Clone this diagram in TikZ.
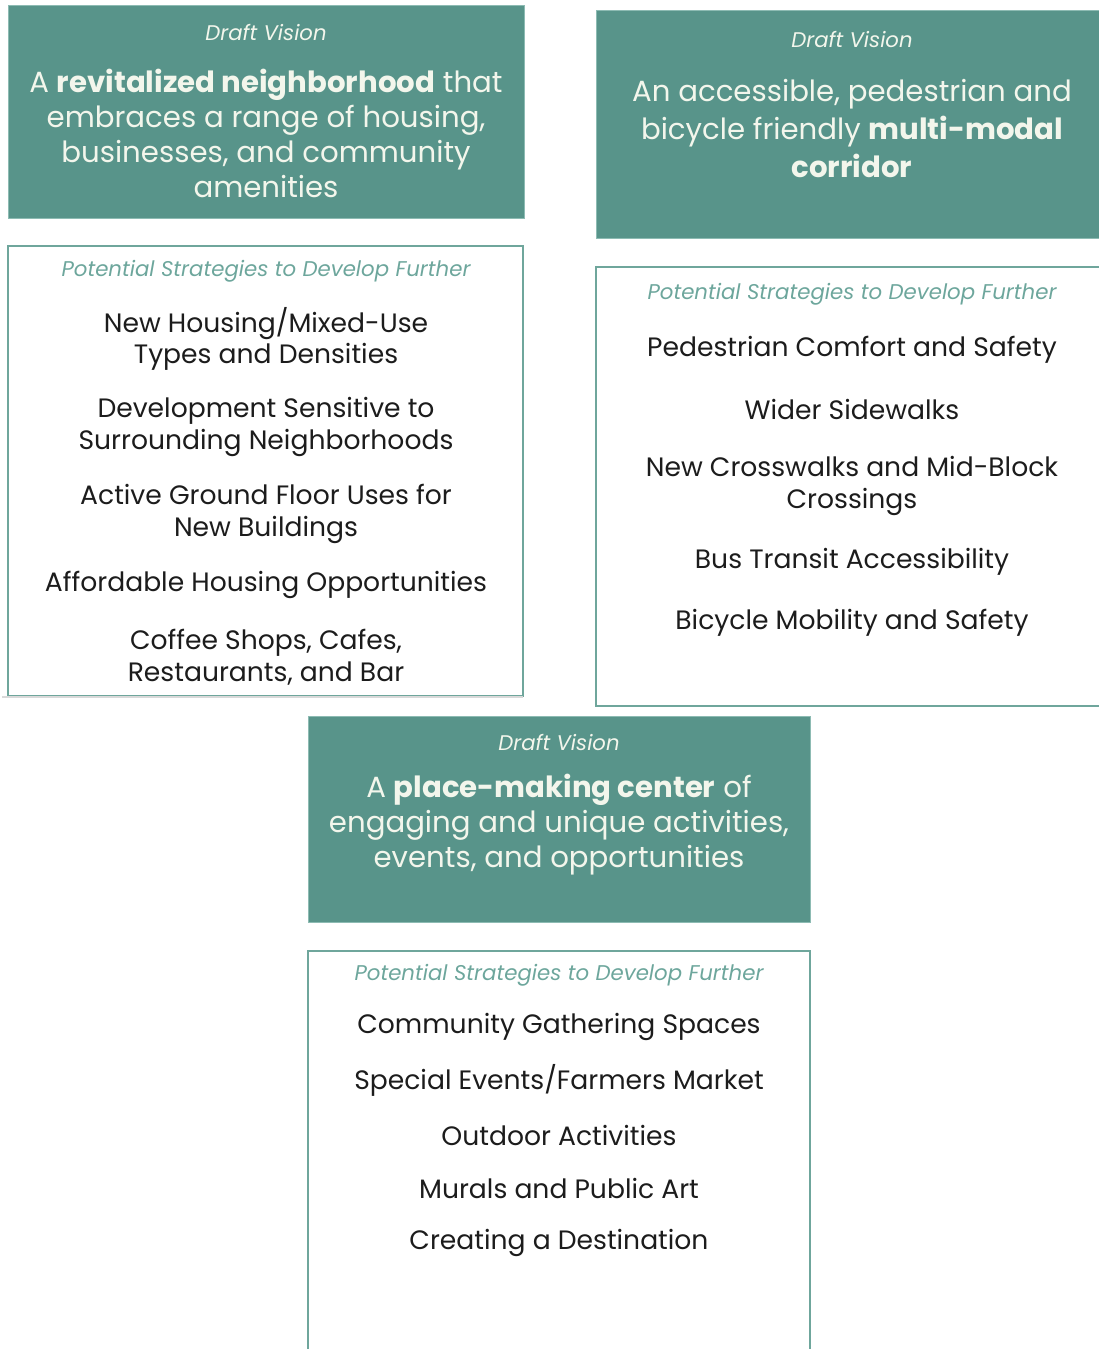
\documentclass[tikz,border=0pt]{standalone}
\usepackage{fontspec}
\setmainfont{Poppins}
\definecolor{visionfill}{HTML}{58948A}
\definecolor{visionedge}{HTML}{8DBBB3}
\definecolor{stratedge}{HTML}{6FA69C}
\definecolor{headteal}{HTML}{6DA69C}
\definecolor{paletext}{HTML}{F3F6EC}
\definecolor{itemtext}{HTML}{1C1C1C}

\begin{document}
\begin{tikzpicture}[x=1pt, y=-1pt,
    visionbox/.style = {fill=visionfill, draw=visionedge, line width=1pt},
    stratbox/.style  = {draw=stratedge, line width=1.5pt},
    drafthead/.style = {font=\fontsize{21.2}{25}\selectfont\itshape, text=paletext, inner sep=0pt},
    visiontext/.style = {font=\fontsize{29.2}{35}\selectfont, text=paletext, align=center, inner sep=0pt},
    strathead/.style = {font=\fontsize{21.3}{25}\selectfont\itshape, text=headteal, inner sep=0pt},
    stratitem/.style = {font=\fontsize{26.6}{31.5}\selectfont, text=itemtext, align=center, inner sep=0pt}]
    \useasboundingbox (0,0) rectangle (1099,1349);

    % neighborhood vision
    \draw[visionbox] (8,5) rectangle (524,218);
    \node[drafthead] (nbdraft) at (266,32) {Draft Vision};
    \node[visiontext] (nbvision) at (266,133) {A \textbf{revitalized neighborhood} that\\embraces a range of housing,\\businesses, and community\\amenities};

    % corridor vision
    \draw[visionbox] (596,10) rectangle (1110,238);
    \node[drafthead] (crdraft) at (852,39) {Draft Vision};
    \node[visiontext, font=\fontsize{29.2}{38}\selectfont] (crvision) at (852,129) {An accessible, pedestrian and\\bicycle friendly \textbf{multi-modal}\\\textbf{corridor}};

    % neighborhood strategies
    \draw[stratbox] (8,246) rectangle (523,696);
    \draw[black!15, line width=1.5pt] (2,697) -- (523,697);
    \node[strathead] (nbhead) at (266,271) {Potential Strategies to Develop Further};
    \node[stratitem] (nbone)   at (266,339) {New Housing/Mixed-Use\\Types and Densities};
    \node[stratitem] (nbtwo)   at (266,427) {Development Sensitive to\\Surrounding Neighborhoods};
    \node[stratitem] (nbthree) at (266,514) {Active Ground Floor Uses for\\New Buildings};
    \node[stratitem] (nbfour)  at (266,585) {Affordable Housing Opportunities};
    \node[stratitem] (nbfive)  at (266,657) {Coffee Shops, Cafes,\\Restaurants, and Bar};

    % corridor strategies
    \draw[stratbox] (596,267) rectangle (1110,706);
    \node[strathead] (crhead) at (852,294) {Potential Strategies to Develop Further};
    \node[stratitem] (crone)   at (852,350) {Pedestrian Comfort and Safety};
    \node[stratitem] (crtwo)   at (852,409) {Wider Sidewalks};
    \node[stratitem] (crthree) at (852,486) {New Crosswalks and Mid-Block\\Crossings};
    \node[stratitem] (crfour)  at (852,562) {Bus Transit Accessibility};
    \node[stratitem] (crfive)  at (852,623) {Bicycle Mobility and Safety};

    % place-making vision
    \draw[visionbox] (308,716) rectangle (810,922);
    \node[drafthead] (pmdraft) at (559,742) {Draft Vision};
    \node[visiontext] (pmvision) at (559,825) {A \textbf{place-making center} of\\engaging and unique activities,\\events, and opportunities};

    % place-making strategies
    \draw[stratbox] (308,951) rectangle (810,1360);
    \node[strathead] (pmhead) at (559,975) {Potential Strategies to Develop Further};
    \node[stratitem] (pmone)   at (559,1027) {Community Gathering Spaces};
    \node[stratitem] (pmtwo)   at (559,1080) {Special Events/Farmers Market};
    \node[stratitem] (pmthree) at (559,1135) {Outdoor Activities};
    \node[stratitem] (pmfour)  at (559,1188) {Murals and Public Art};
    \node[stratitem] (pmfive)  at (559,1243) {Creating a Destination};
\end{tikzpicture}
\end{document}
